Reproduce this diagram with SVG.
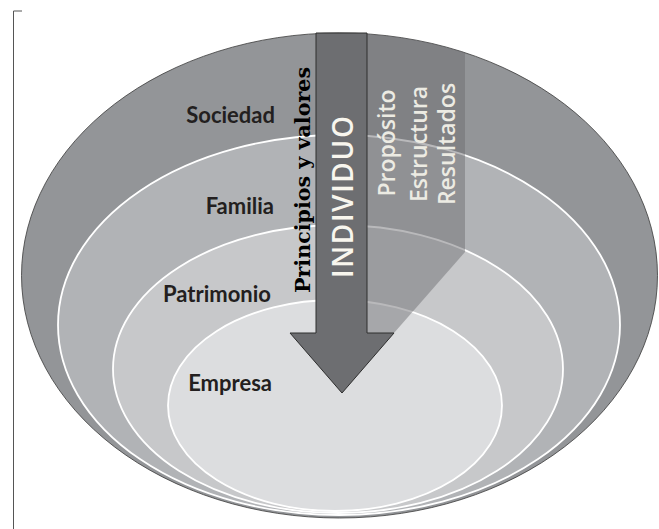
<svg xmlns="http://www.w3.org/2000/svg" width="659" height="529" viewBox="0 0 659 529">
  <style>
    .ring { stroke: #ffffff; stroke-width: 1.8; }
    .lbl { font-family: Lato, "Open Sans", "Liberation Sans", sans-serif; font-weight: bold; font-size: 22px; fill: #231f20; text-anchor: end; }
    .sub { font-family: "Open Sans", "Liberation Sans", sans-serif; font-weight: 600; font-size: 23px; fill: #ecebe3; text-anchor: middle; }
  </style>
  <defs>
    <clipPath id="outerClip">
      <ellipse cx="339.5" cy="275.5" rx="318" ry="242.5"/>
    </clipPath>
  </defs>
  <rect width="659" height="529" fill="#ffffff"/>
  <g id="frame" fill="none" stroke="#555" stroke-width="1">
    <polyline points="22,11 13.5,11 13.5,529"/>
  </g>
  <g id="sociedad">
    <ellipse cx="339.5" cy="275.5" rx="318" ry="242.5" fill="#939598" stroke="#3a3a3a" stroke-width="0.8"/>
    <text class="lbl" x="275" y="123">Sociedad</text>
  </g>
  <g id="familia">
    <ellipse class="ring" cx="339" cy="325" rx="281" ry="190" fill="#b1b3b6"/>
    <text class="lbl" x="274" y="214">Familia</text>
  </g>
  <g id="patrimonio">
    <ellipse class="ring" cx="338" cy="369" rx="225" ry="144" fill="#c7c8ca"/>
    <text class="lbl" x="271" y="302">Patrimonio</text>
  </g>
  <g id="empresa">
    <ellipse class="ring" cx="335" cy="405.5" rx="167" ry="105.5" fill="#dcdddf"/>
    <text class="lbl" x="272" y="391">Empresa</text>
  </g>
  <g id="band" clip-path="url(#outerClip)">
    <polygon points="367,20 465,20 465,252 394,333 367,333" fill="#6a6b6e" fill-opacity="0.47"/>
    <text class="sub" transform="translate(395,143) rotate(-90)">Propósito</text>
    <text class="sub" transform="translate(427,144) rotate(-90)">Estructura</text>
    <text class="sub" transform="translate(455,144) rotate(-90)">Resultados</text>
  </g>
  <g id="individuo">
    <polygon points="316,33 367,33 367,333 394,333 342,393 290,333 316,333" fill="#6d6e71" stroke="#2e2e2e" stroke-width="1" stroke-linejoin="miter"/>
    <text transform="translate(353,197) rotate(-90)" font-family="'Open Sans', 'Liberation Sans', sans-serif" font-weight="600" font-size="28" fill="#f8f6ee" text-anchor="middle" textLength="162" lengthAdjust="spacing">INDIVIDUO</text>
  </g>
  <g id="principios">
    <text transform="translate(310,180) rotate(-90)" font-family="'DejaVu Serif', 'Liberation Serif', serif" font-weight="bold" font-size="21" fill="#000000" text-anchor="middle" textLength="226" lengthAdjust="spacingAndGlyphs">Principios y valores</text>
  </g>
</svg>
